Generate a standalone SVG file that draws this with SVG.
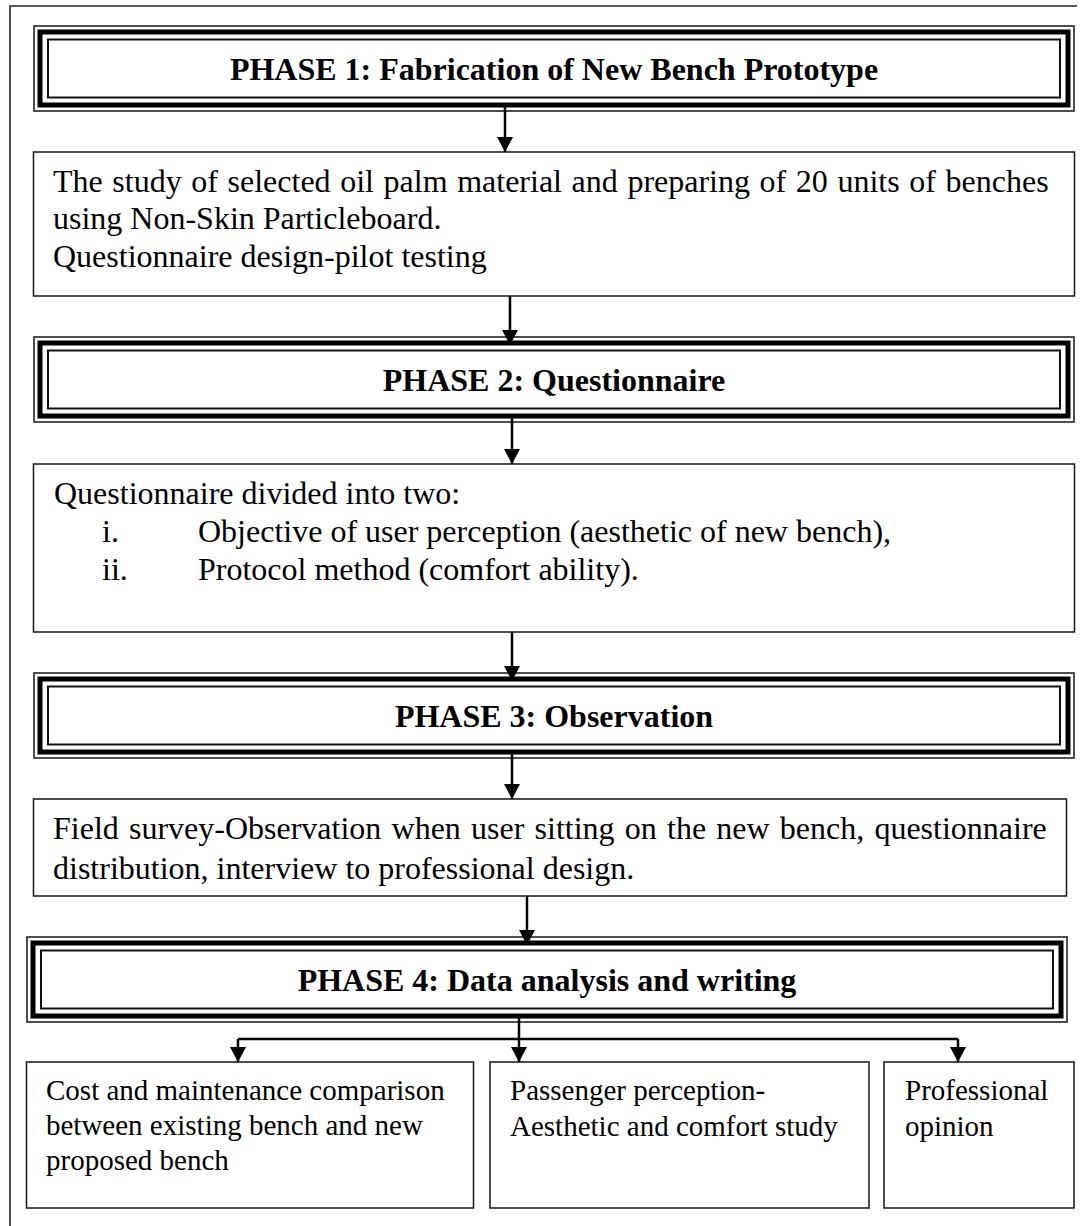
<svg xmlns="http://www.w3.org/2000/svg" width="1083" height="1226" viewBox="0 0 1083 1226">
<style>
  .bg{fill:#fff}
  .frame{fill:none;stroke:#222;stroke-width:1.6}
  .p-out{fill:#fff;stroke:#222;stroke-width:1.6}
  .p-thick{fill:none;stroke:#000;stroke-width:5}
  .p-in{fill:none;stroke:#111;stroke-width:2}
  .box{fill:#fff;stroke:#222;stroke-width:1.6}
  .ttl{font-family:"Liberation Serif","Times New Roman",serif;font-weight:bold;font-size:32px;fill:#000;text-anchor:middle}
  .txt{font-family:"Liberation Serif","Times New Roman",serif;font-size:32px;fill:#000}
  .sm{font-family:"Liberation Serif","Times New Roman",serif;font-size:29px;fill:#000}
  .con{fill:none;stroke:#000;stroke-width:2.5}
</style>
<defs>
  <marker id="ah" markerUnits="userSpaceOnUse" markerWidth="16" markerHeight="16" refX="15" refY="8" orient="auto">
    <path d="M0,0 L15,8 L0,16 z" fill="#000"/>
  </marker>
</defs>
<rect class="bg" x="0" y="0" width="1083" height="1226"/>
<path class="frame" d="M10,1226 V6 H1077"/>

<g id="phase1">
  <rect class="p-out" x="34" y="26" width="1040" height="85"/>
  <rect class="p-thick" x="40" y="32" width="1028" height="73"/>
  <rect class="p-in" x="48" y="39.5" width="1012" height="58"/>
  <text class="ttl" x="554" y="80">PHASE 1: Fabrication of New Bench Prototype</text>
</g>

<g id="box1">
  <rect class="box" x="33.5" y="152" width="1041" height="144"/>
  <text class="txt" x="53" y="192" word-spacing="1.6">The study of selected oil palm material and preparing of 20 units of benches</text>
  <text class="txt" x="53" y="229">using Non-Skin Particleboard.</text>
  <text class="txt" x="53" y="267">Questionnaire design-pilot testing</text>
</g>

<g id="phase2">
  <rect class="p-out" x="34" y="337" width="1040" height="85"/>
  <rect class="p-thick" x="40" y="343" width="1028" height="73"/>
  <rect class="p-in" x="48" y="350.5" width="1012" height="58"/>
  <text class="ttl" x="554" y="391">PHASE 2: Questionnaire</text>
</g>

<g id="box2">
  <rect class="box" x="33.5" y="464" width="1041" height="168"/>
  <text class="txt" x="54" y="504">Questionnaire divided into two:</text>
  <text class="txt" x="102" y="542">i.</text>
  <text class="txt" x="198" y="542">Objective of user perception (aesthetic of new bench),</text>
  <text class="txt" x="102" y="580">ii.</text>
  <text class="txt" x="198" y="580">Protocol method (comfort ability).</text>
</g>

<g id="phase3">
  <rect class="p-out" x="34" y="673" width="1040" height="85"/>
  <rect class="p-thick" x="40" y="679" width="1028" height="73"/>
  <rect class="p-in" x="48" y="686.5" width="1012" height="58"/>
  <text class="ttl" x="554" y="727">PHASE 3: Observation</text>
</g>

<g id="box3">
  <rect class="box" x="33.5" y="799" width="1033" height="97"/>
  <text class="txt" x="53" y="839" word-spacing="2.2">Field survey-Observation when user sitting on the new bench, questionnaire</text>
  <text class="txt" x="53" y="879">distribution, interview to professional design.</text>
</g>

<g id="phase4">
  <rect class="p-out" x="27" y="937" width="1040" height="85"/>
  <rect class="p-thick" x="33" y="943" width="1028" height="73"/>
  <rect class="p-in" x="41" y="950.5" width="1012" height="58"/>
  <text class="ttl" x="547" y="991">PHASE 4: Data analysis and writing</text>
</g>

<g id="boxA">
  <rect class="box" x="26.5" y="1062" width="447" height="146"/>
  <text class="sm" x="46" y="1100">Cost and maintenance comparison</text>
  <text class="sm" x="46" y="1135">between existing bench and new</text>
  <text class="sm" x="46" y="1170">proposed bench</text>
</g>

<g id="boxB">
  <rect class="box" x="490" y="1062" width="379" height="146"/>
  <text class="sm" x="510" y="1100">Passenger perception-</text>
  <text class="sm" x="510" y="1136">Aesthetic and comfort study</text>
</g>

<g id="boxC">
  <rect class="box" x="884" y="1062" width="190" height="146"/>
  <text class="sm" x="905" y="1100">Professional</text>
  <text class="sm" x="905" y="1136">opinion</text>
</g>

<g id="connectors">
  <path class="con" d="M505,104 V152" marker-end="url(#ah)"/>
  <path class="con" d="M510,296 V345" marker-end="url(#ah)"/>
  <path class="con" d="M512,417 V464" marker-end="url(#ah)"/>
  <path class="con" d="M512,632 V681" marker-end="url(#ah)"/>
  <path class="con" d="M512,753 V799" marker-end="url(#ah)"/>
  <path class="con" d="M527,896 V945" marker-end="url(#ah)"/>
  <path class="con" d="M519,1016 V1062" marker-end="url(#ah)"/>
  <path class="con" d="M238,1039 H958"/>
  <path class="con" d="M238,1039 V1062" marker-end="url(#ah)"/>
  <path class="con" d="M958,1039 V1062" marker-end="url(#ah)"/>
</g>
</svg>
